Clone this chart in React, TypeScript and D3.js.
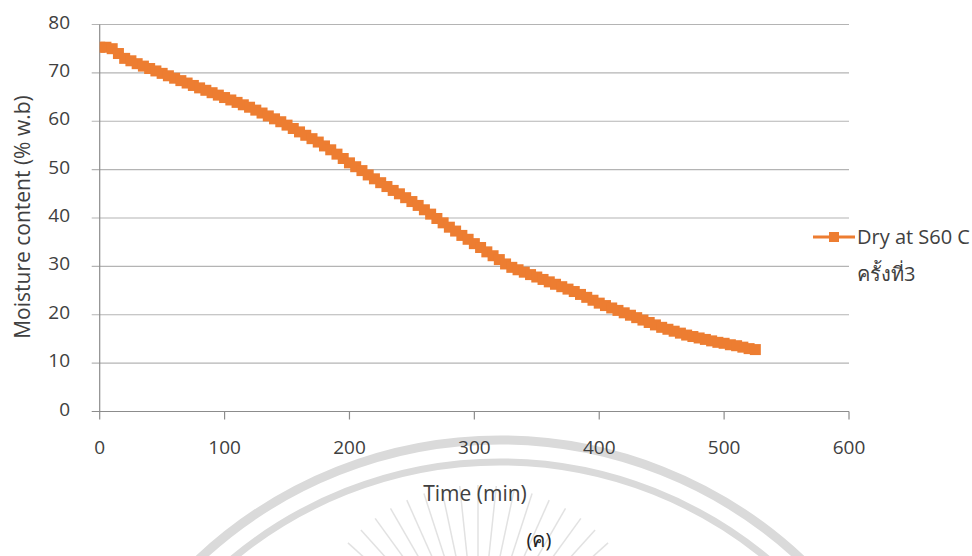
import React from 'react';
import * as d3 from 'd3';

const timeMin: number[] = [
  0, 5, 10, 15, 20, 25, 30, 35, 40, 45, 50, 55, 60, 65, 70, 75, 80, 85, 90, 95,
  100, 105, 110, 115, 120, 125, 130, 135, 140, 145, 150, 155, 160, 165, 170, 175, 180, 185, 190, 195,
  200, 205, 210, 215, 220, 225, 230, 235, 240, 245, 250, 255, 260, 265, 270, 275, 280, 285, 290, 295,
  300, 305, 310, 315, 320, 325, 330, 335, 340, 345, 350, 355, 360, 365, 370, 375, 380, 385, 390, 395,
  400, 405, 410, 415, 420, 425, 430, 435, 440, 445, 450, 455, 460, 465, 470, 475, 480, 485, 490, 495,
  500, 505, 510, 515, 520, 525,
];
const moisture: number[] = [
  75.3, 75.3, 75.0, 74.0, 73.0, 72.5, 71.9, 71.4, 70.9, 70.4, 69.9, 69.4, 68.9, 68.4, 67.9, 67.4, 66.9, 66.4, 65.9, 65.4,
  64.9, 64.4, 63.9, 63.4, 62.9, 62.3, 61.7, 61.1, 60.5, 59.9, 59.2, 58.5, 57.8, 57.1, 56.4, 55.7, 54.9, 54.1, 53.2, 52.3,
  51.4, 50.6, 49.8, 48.9, 48.1, 47.3, 46.5, 45.7, 45.0, 44.2, 43.4, 42.6, 41.7, 40.8, 39.9, 39.0, 38.1, 37.3, 36.4, 35.6,
  34.7, 33.9, 33.0, 32.2, 31.4, 30.5, 29.8, 29.3, 28.8, 28.3, 27.8, 27.3, 26.8, 26.3, 25.8, 25.3, 24.8, 24.2, 23.6, 23.0,
  22.4, 21.9, 21.4, 20.9, 20.4, 19.9, 19.4, 18.9, 18.4, 17.9, 17.4, 17.0, 16.6, 16.2, 15.8, 15.5, 15.2, 14.9, 14.6, 14.3,
  14.1, 13.8, 13.6, 13.3, 13.0, 12.8,
];
const xTicks: number[] = [0, 100, 200, 300, 400, 500, 600];
const yTicks: number[] = [0, 10, 20, 30, 40, 50, 60, 70, 80];
const seriesName = 'Dry at S60 C';
const seriesName2 = 'ครั้งที่3';
const xTitle = 'Time (min)';
const yTitle = 'Moisture content (% w.b)';
const caption = '(ค)';

const W = 972;
const H = 556;
const left = 99.7;
const right = 849;
const top = 24.5;
const bottom = 411.5;
const ORANGE = '#ED7D31';
const TEXT = '#404040';
const FONT = "'Open Sans', 'Noto Sans', sans-serif";

export default function App() {
  const x = d3.scaleLinear().domain([0, 600]).range([left, right]);
  const y = d3.scaleLinear().domain([0, 80]).range([bottom, top]);
  const data = timeMin.map((t, i) => ({ t, v: moisture[i] }));
  const line = d3.line<{ t: number; v: number }>().x(d => x(d.t)).y(d => y(d.v));
  const ms = 11;

  // watermark geometry
  const wcx = 500;
  const wcy = 880;
  const rays = d3.range(-78, 79, 6);
  const rayC = { x: 478, y: 660 };

  return (
    <svg width={W} height={H} style={{ position: 'absolute', left: 0, top: 0, background: '#fff' }} fontFamily={FONT}>
      <rect x={0} y={0} width={W} height={H} fill="#fff" />
      {/* watermark */}
      <g>
        <circle cx={wcx} cy={wcy} r={440} fill="none" stroke="#dadada" strokeWidth={9} />
        <circle cx={wcx} cy={wcy} r={418} fill="none" stroke="#dadada" strokeWidth={7} />
        {rays.map((a, i) => {
          const rad = ((a - 90) * Math.PI) / 180;
          const r0 = 100;
          const r1 = 175;
          return (
            <line
              key={i}
              x1={rayC.x + r0 * Math.cos(rad)}
              y1={rayC.y + r0 * Math.sin(rad)}
              x2={rayC.x + r1 * Math.cos(rad)}
              y2={rayC.y + r1 * Math.sin(rad)}
              stroke="#e2e2e2"
              strokeWidth={1.5}
            />
          );
        })}
      </g>
      {/* grid */}
      {yTicks.map(t => (
        <line key={'g' + t} x1={left - 8} x2={right} y1={y(t)} y2={y(t)} stroke={t === 0 ? '#8c8c8c' : '#b4b4b4'} strokeWidth={1.2} />
      ))}
      <line x1={left} x2={left} y1={top} y2={bottom} stroke="#8c8c8c" strokeWidth={1.2} />
      {xTicks.map(t => (
        <line key={'xt' + t} x1={x(t)} x2={x(t)} y1={bottom} y2={bottom + 8} stroke="#8c8c8c" strokeWidth={1.2} />
      ))}
      {/* tick labels */}
      {yTicks.map(t => (
        <text key={'yl' + t} x={70} y={y(t) - 1} textAnchor="end" dominantBaseline="middle" fontSize={19} fill={TEXT}>
          {t}
        </text>
      ))}
      {xTicks.map(t => (
        <text key={'xl' + t} x={x(t)} y={449} textAnchor="middle" dominantBaseline="middle" fontSize={19} fill={TEXT}>
          {t}
        </text>
      ))}
      {/* titles */}
      <text x={475} y={495} textAnchor="middle" dominantBaseline="middle" fontSize={21} fill={TEXT}>
        {xTitle}
      </text>
      <text
        transform={`translate(24, 217) rotate(-90)`}
        textAnchor="middle"
        dominantBaseline="middle"
        fontSize={21}
        fill={TEXT}
      >
        {yTitle}
      </text>
      <text x={539} y={542} textAnchor="middle" dominantBaseline="middle" fontSize={20} fill="#222">
        {caption}
      </text>
      {/* series */}
      <defs>
        <clipPath id="plotClip">
          <rect x={left} y={0} width={right - left + 20} height={bottom} />
        </clipPath>
      </defs>
      <g clipPath="url(#plotClip)">
        <path d={line(data) || ''} fill="none" stroke={ORANGE} strokeWidth={3.5} />
        {data.map((d, i) => (
          <rect key={i} x={x(d.t) - ms / 2} y={y(d.v) - ms / 2} width={ms} height={ms} fill={ORANGE} />
        ))}
      </g>
      {/* legend */}
      <line x1={813} x2={855} y1={237} y2={237} stroke={ORANGE} strokeWidth={3} />
      <rect x={834 - 5} y={237 - 5} width={10} height={10} fill={ORANGE} />
      <text x={857} y={244} fontSize={20} fill={TEXT}>
        {seriesName}
      </text>
      <text x={857} y={281} fontSize={20} fill={TEXT}>
        {seriesName2}
      </text>
    </svg>
  );
}
